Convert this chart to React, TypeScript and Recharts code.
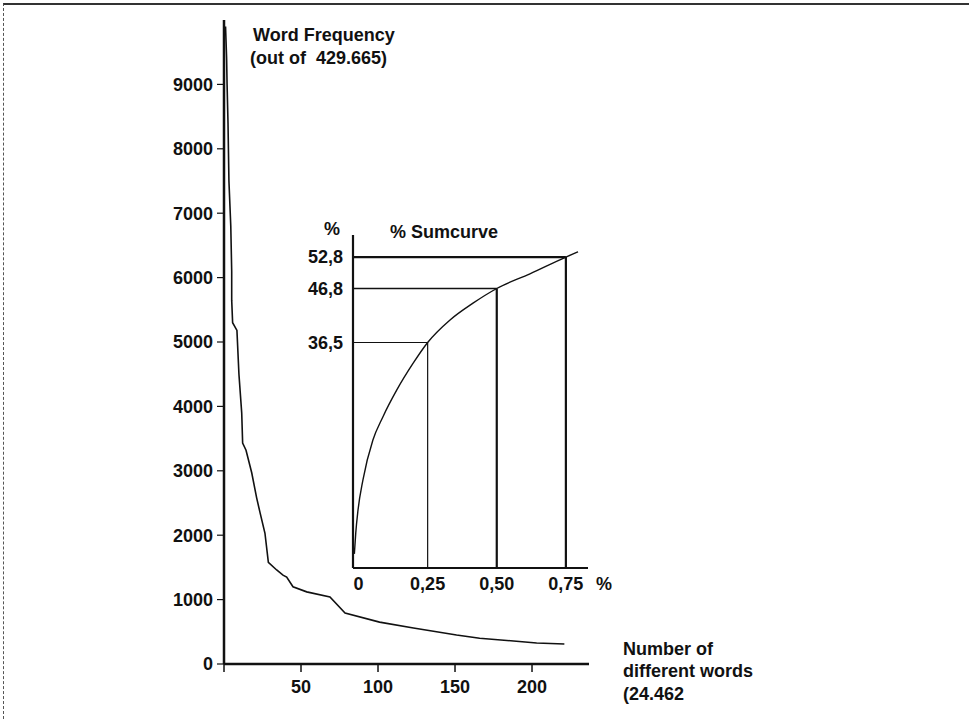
import React from "react";
import { LineChart, Line, XAxis, YAxis, ReferenceLine } from "recharts";

// Main curve: rank of word vs. frequency
const ranks = [1, 1.7, 2, 2.6, 3.2, 4.4, 5, 5, 5.6, 8.4, 9.7, 11.5, 12.1, 14.3, 18, 21.2, 23.4, 26.6, 28.8, 34.2, 38.3, 40.7, 44.8, 53.7, 68.8, 78.6, 101, 123, 151, 166, 188, 203, 221];
const frequencies = [9900, 9400, 9000, 8400, 7500, 6800, 6100, 5650, 5300, 5180, 4500, 3900, 3430, 3320, 2970, 2580, 2350, 2030, 1580, 1460, 1380, 1350, 1200, 1120, 1040, 790, 650, 560, 450, 400, 357, 326, 310];
const mainXTicks = [0, 50, 100, 150, 200];
const mainYTicks = [0, 1000, 2000, 3000, 4000, 5000, 6000, 7000, 8000, 9000];

// Inset: % sum curve
const sumX = [-0.015, -0.01, -0.002, 0.016, 0.052, 0.088, 0.139, 0.197, 0.25, 0.331, 0.414, 0.5, 0.62, 0.75, 0.794];
const sumY = [-3.8, 0.2, 4.5, 10.3, 17.9, 22.3, 27.5, 32.5, 36.5, 40.8, 44.0, 46.8, 49.6, 52.8, 53.8];
const insetXTicks = [0, 0.25, 0.5, 0.75];
const guideX = [0.25, 0.5, 0.75];
const guideY = [36.5, 46.8, 52.8];

const hStroke = [1.2, 1.5, 2.2];
const vStroke = [1.2, 2.2, 2.2];

const FONT = "'Liberation Sans', Arial, Helvetica, sans-serif";
const INK = "#111";
const tickStyle = { fontFamily: FONT, fontSize: 18, fontWeight: "bold" as const, fill: INK };

const mainData = ranks.map((r, i) => ({ rank: r, freq: frequencies[i] }));
const sumData = sumX.map((x, i) => ({ x, y: sumY[i] }));

const X_MIN = -0.02;
const X_MAX = 0.83;
const Y_MIN = -6.5;
const Y_MAX = 57;

const comma = (v: number) => (v === 0 ? "0" : v.toFixed(2).replace(".", ","));

export default function App() {
  const textStyle: React.CSSProperties = {
    fontFamily: FONT,
    fontSize: 18,
    fontWeight: "bold",
    fill: INK,
    whiteSpace: "pre",
  };
  return (
    <div style={{ position: "absolute", left: 0, top: 0, width: 969, height: 719, background: "#fff", overflow: "hidden" }}>
      <div
        style={{
          position: "absolute",
          left: 3,
          top: 3,
          width: 966,
          height: 716,
          borderTop: "2px solid #333",
          borderLeft: "1px dashed #555",
          boxSizing: "border-box",
        }}
      />
      <div style={{ position: "absolute", left: 0, top: 0 }}>
        <LineChart width={969} height={719} data={mainData} margin={{ top: 20, right: 380, bottom: 25, left: 164 }}>
          <XAxis
            dataKey="rank"
            type="number"
            domain={[0, 237]}
            ticks={mainXTicks}
            interval={0}
            height={30}
            tickFormatter={(v: number) => (v === 0 ? "" : String(v))}
            tick={tickStyle}
            tickSize={8}
            tickMargin={8}
            axisLine={{ stroke: INK, strokeWidth: 2.5 }}
            tickLine={{ stroke: INK, strokeWidth: 1.5 }}
            allowDataOverflow
          />
          <YAxis
            type="number"
            domain={[0, 10000]}
            ticks={mainYTicks}
            interval={0}
            width={60}
            tick={tickStyle}
            tickSize={7}
            tickMargin={4}
            axisLine={{ stroke: INK, strokeWidth: 2.5 }}
            tickLine={{ stroke: INK, strokeWidth: 1.2 }}
            allowDataOverflow
          />
          <Line type="linear" dataKey="freq" stroke={INK} strokeWidth={1.6} dot={false} isAnimationActive={false} />
        </LineChart>
      </div>
      <div style={{ position: "absolute", left: 0, top: 0 }}>
        <LineChart width={969} height={719} data={sumData} margin={{ top: 235, right: 381, bottom: 121, left: 293 }}>
          <XAxis
            dataKey="x"
            type="number"
            domain={[X_MIN, X_MAX]}
            ticks={insetXTicks}
            interval={0}
            height={30}
            tickFormatter={comma}
            tick={tickStyle}
            tickLine={false}
            tickSize={0}
            tickMargin={9}
            axisLine={{ stroke: INK, strokeWidth: 2.2 }}
            allowDataOverflow
          />
          <YAxis
            type="number"
            domain={[Y_MIN, Y_MAX]}
            ticks={guideY}
            interval={0}
            width={60}
            tickFormatter={(v: number) => v.toFixed(1).replace(".", ",")}
            tick={tickStyle}
            tickLine={false}
            tickSize={0}
            tickMargin={10}
            axisLine={{ stroke: INK, strokeWidth: 2.2 }}
            allowDataOverflow
          />
          {guideX.map((gx, i) => (
            <ReferenceLine
              key={"h" + i}
              segment={[
                { x: X_MIN, y: guideY[i] },
                { x: gx, y: guideY[i] },
              ]}
              stroke={INK}
              strokeWidth={hStroke[i]}
              ifOverflow="visible"
            />
          ))}
          {guideX.map((gx, i) => (
            <ReferenceLine
              key={"v" + i}
              segment={[
                { x: gx, y: guideY[i] },
                { x: gx, y: Y_MIN },
              ]}
              stroke={INK}
              strokeWidth={vStroke[i]}
              ifOverflow="visible"
            />
          ))}
          <Line type="monotone" dataKey="y" stroke={INK} strokeWidth={1.4} dot={false} isAnimationActive={false} />
        </LineChart>
      </div>
      <svg width={969} height={719} style={{ position: "absolute", left: 0, top: 0, pointerEvents: "none" }}>
        <text x={253} y={41} style={textStyle}>Word Frequency</text>
        <text x={250} y={64} style={textStyle}>{"(out of  429.665)"}</text>
        <text x={332} y={235} textAnchor="middle" style={textStyle}>%</text>
        <text x={390} y={238} style={textStyle}>% Sumcurve</text>
        <text x={604} y={590} textAnchor="middle" style={textStyle}>%</text>
        <text x={623} y={655} style={textStyle}>Number of</text>
        <text x={623} y={677} style={textStyle}>different words</text>
        <text x={623} y={700} style={textStyle}>(24.462</text>
      </svg>
    </div>
  );
}
